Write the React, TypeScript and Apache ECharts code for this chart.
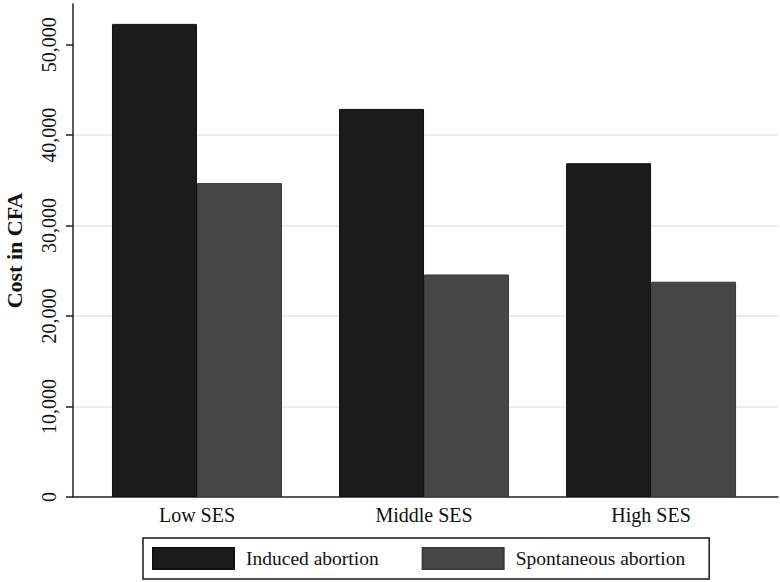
import React, { useEffect, useRef } from "react";
import * as echarts from "echarts";

const categories = ["Low SES", "Middle SES", "High SES"];
const seriesNames = ["Induced abortion", "Spontaneous abortion"];
const inducedValues = [52300, 42900, 36900];
const spontaneousValues = [34700, 24600, 23800];
const yTickValues = [0, 10000, 20000, 30000, 40000, 50000];

const FONT = "'Liberation Serif', 'Times New Roman', serif";

export default function App() {
  const ref = useRef<HTMLDivElement>(null);

  useEffect(() => {
    document.body.style.margin = "0";
    const chart = echarts.init(ref.current!, null, { renderer: "svg" });
    const catIdx = categories.map((_, i) => i);
    chart.setOption({
      animation: false,
      backgroundColor: "#ffffff",
      grid: { left: 73, right: 2, top: 4, bottom: 85, containLabel: false, outerBoundsMode: "none" },
      xAxis: {
        type: "value",
        min: -0.546,
        max: 2.559,
        axisLine: { show: true, onZero: false, lineStyle: { color: "#222", width: 1.5 } },
        axisTick: { show: false },
        splitLine: { show: false },
        axisLabel: {
          customValues: catIdx,
          formatter: (v: number) => categories[Math.round(v)] ?? "",
          fontFamily: FONT,
          fontSize: 20,
          color: "#111",
          margin: 8,
        },
      },
      yAxis: {
        type: "value",
        min: 0,
        max: 54500,
        interval: 10000,
        name: "Cost in CFA",
        nameLocation: "middle",
        nameGap: 48,
        nameTextStyle: { fontFamily: FONT, fontSize: 22, fontWeight: "bold", color: "#111" },
        axisLine: { show: true, onZero: false, lineStyle: { color: "#222", width: 1.5 } },
        axisTick: { show: true, length: 7, customValues: yTickValues, lineStyle: { color: "#222", width: 1.5 } },
        axisLabel: {
          customValues: yTickValues,
          rotate: 90,
          formatter: (v: number) => v.toLocaleString("en-US"),
          fontFamily: FONT,
          fontSize: 20,
          color: "#111",
          margin: 14,
        },
        splitLine: { show: true, showMaxLine: false, showMinLine: false, lineStyle: { color: "#e6e6e6", width: 1.5 } },
      },
      legend: {
        left: 143,
        top: 538,
        orient: "horizontal",
        itemWidth: 81,
        itemHeight: 21,
        itemGap: 43,
        padding: [9, 24, 9, 9],
        borderColor: "#1a1a1a",
        borderWidth: 1.5,
        icon: "rect",
        textStyle: { fontFamily: FONT, fontSize: 19.5, color: "#111", padding: [0, 0, 0, 7] },
        data: seriesNames,
      },
      series: [
        {
          name: seriesNames[0],
          type: "bar",
          barWidth: 85,
          barGap: "0%",
          itemStyle: { color: "#1b1b1b", borderColor: "#111", borderWidth: 1 },
          data: inducedValues.map((v, i) => [i, v]),
        },
        {
          name: seriesNames[1],
          type: "bar",
          barWidth: 85,
          barGap: "0%",
          itemStyle: { color: "#474747", borderColor: "#3a3a3a", borderWidth: 1 },
          data: spontaneousValues.map((v, i) => [i, v]),
        },
      ],
    });
    return () => chart.dispose();
  }, []);

  return <div ref={ref} style={{ width: 780, height: 582 }} />;
}
